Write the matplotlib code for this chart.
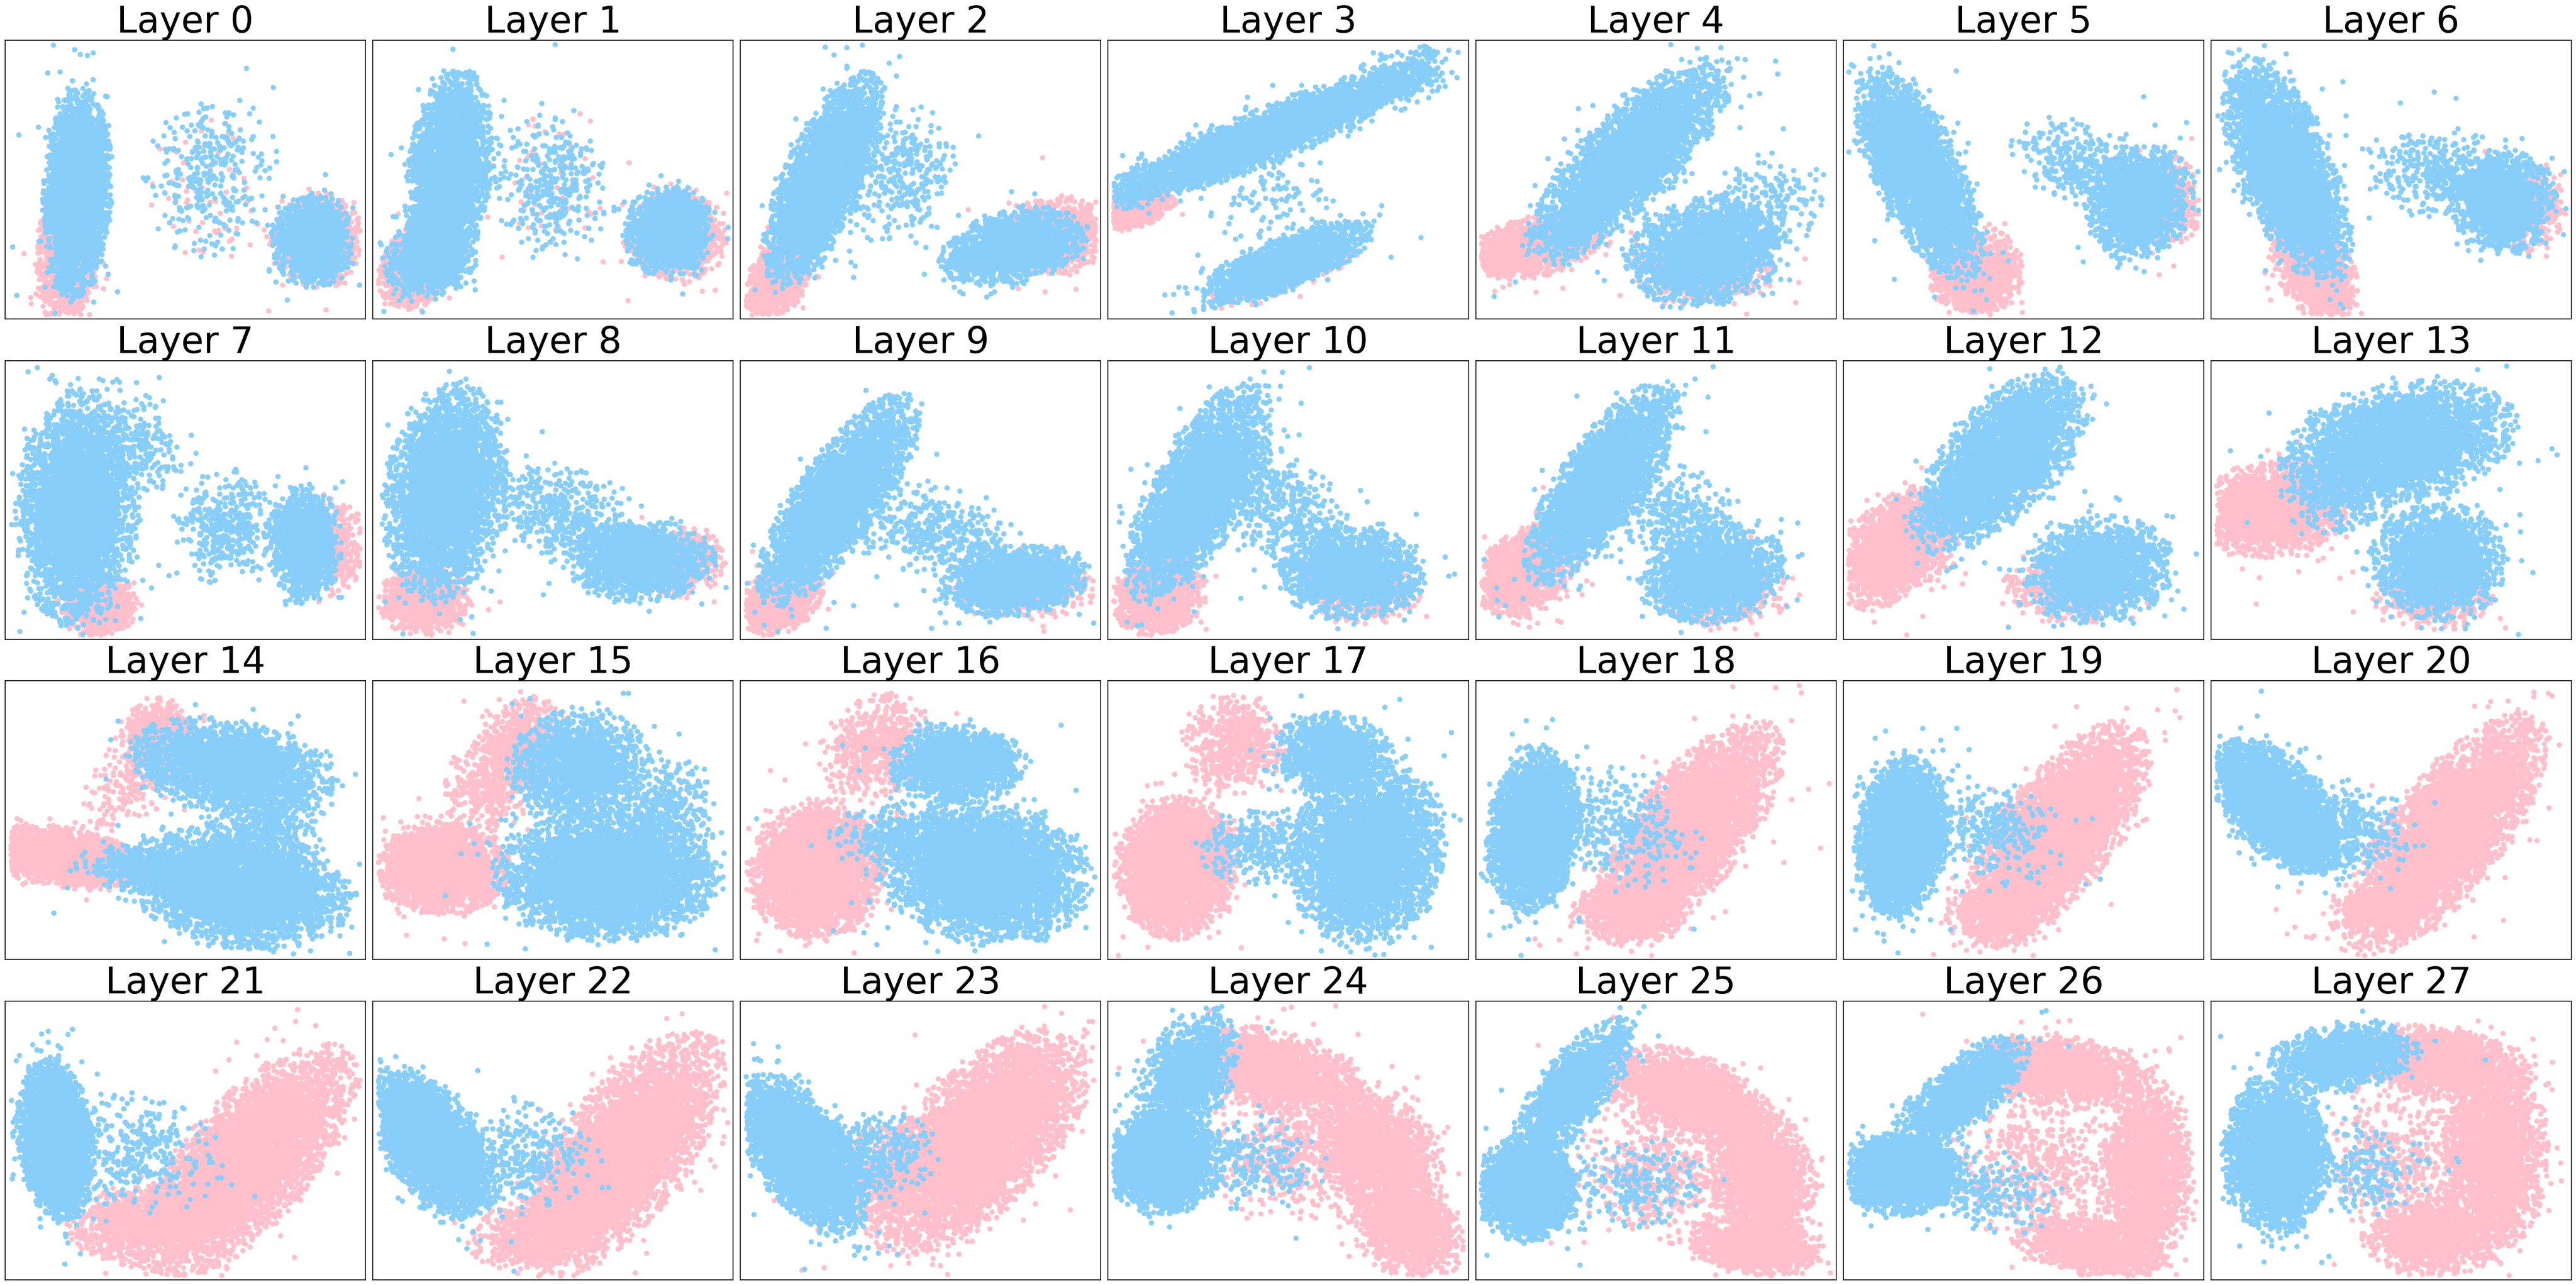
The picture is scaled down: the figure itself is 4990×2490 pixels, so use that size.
import matplotlib.pyplot as plt
import numpy as np

BLUE = "lightskyblue"
PINK = "pink"

# Point clouds, one list per layer.
# Each cloud: (class, cx, cy, sd along axis, sd across, axis angle in deg, n)
# Positions are in axes fractions (0..1).
layer_00 = [("p", .17, .24, .13, .04, 88, 1300), ("p", .87, .28, .08, .06, 90, 900),
            ("p", .55, .45, .15, .10, 90, 60),
            ("b", .20, .45, .18, .045, 88, 2600), ("b", .57, .52, .14, .09, 90, 300),
            ("b", .85, .28, .08, .055, 90, 1100)]
layer_01 = [("p", .13, .20, .08, .05, 70, 1200), ("p", .85, .30, .08, .065, 90, 900),
            ("p", .50, .50, .14, .10, 90, 50),
            ("b", .21, .52, .18, .055, 85, 2200), ("b", .16, .22, .07, .06, 60, 700),
            ("b", .49, .49, .13, .08, 90, 330), ("b", .82, .31, .08, .06, 90, 1100)]
layer_02 = [("p", .10, .14, .08, .04, 70, 900), ("p", .88, .30, .07, .07, 0, 700),
            ("b", .23, .50, .19, .055, 72, 2600), ("b", .45, .52, .12, .08, 80, 300),
            ("b", .76, .26, .10, .06, 20, 1300)]
layer_03 = [("p", .07, .40, .06, .035, 25, 600), ("p", .50, .18, .12, .04, 29, 300),
            ("b", .42, .65, .25, .045, 28, 2600), ("b", .82, .87, .08, .05, 35, 250),
            ("b", .49, .20, .13, .045, 29, 1400), ("b", .45, .42, .10, .07, 30, 80)]
layer_04 = [("p", .16, .26, .10, .05, 20, 1000), ("p", .62, .17, .10, .06, 0, 500),
            ("b", .43, .58, .20, .07, 54, 2400), ("b", .64, .24, .11, .09, 30, 1400),
            ("b", .80, .40, .10, .08, 60, 200), ("b", .25, .30, .06, .05, 20, 200)]
layer_05 = [("p", .37, .16, .08, .06, 80, 1000), ("p", .90, .42, .08, .05, 90, 500),
            ("b", .21, .52, .19, .06, -71, 2600), ("b", .82, .42, .10, .07, 80, 1200),
            ("b", .65, .55, .10, .07, -40, 300)]
layer_06 = [("p", .29, .17, .09, .05, -70, 1000), ("p", .88, .40, .08, .05, 90, 500),
            ("b", .21, .53, .20, .065, -73, 2600), ("b", .81, .42, .09, .07, 90, 1100),
            ("b", .63, .52, .10, .08, -20, 350)]
layer_07 = [("p", .26, .12, .05, .05, 0, 800), ("p", .90, .33, .08, .05, 90, 500),
            ("b", .20, .47, .20, .08, 88, 2700), ("b", .35, .70, .10, .08, -60, 250),
            ("b", .61, .40, .10, .07, 90, 350), ("b", .83, .34, .10, .05, 90, 1000)]
layer_08 = [("p", .14, .14, .06, .06, 0, 900), ("p", .85, .28, .06, .06, 0, 500),
            ("b", .20, .53, .19, .08, 85, 2600), ("b", .53, .45, .12, .08, -30, 450),
            ("b", .74, .28, .10, .07, 0, 1100)]
layer_09 = [("p", .11, .15, .07, .05, 60, 1000), ("p", .80, .18, .10, .05, 0, 500),
            ("b", .27, .50, .20, .06, 63, 2500), ("b", .55, .38, .12, .08, -30, 400),
            ("b", .76, .21, .10, .06, 10, 1200)]
layer_10 = [("p", .14, .16, .07, .06, 60, 1100), ("p", .70, .18, .08, .06, 0, 400),
            ("b", .25, .53, .20, .065, 68, 2400), ("b", .47, .48, .12, .08, -50, 400),
            ("b", .67, .24, .10, .08, 0, 1200)]
layer_11 = [("p", .14, .24, .09, .06, 60, 1100), ("p", .68, .16, .09, .06, 0, 400),
            ("b", .35, .56, .19, .06, 63, 2300), ("b", .58, .42, .12, .08, -50, 400),
            ("b", .66, .23, .10, .08, 20, 1200)]
layer_12 = [("p", .15, .33, .12, .07, 55, 1600), ("p", .63, .18, .09, .06, 0, 500),
            ("b", .45, .66, .16, .08, 60, 2300), ("b", .71, .25, .10, .09, 20, 1300),
            ("b", .30, .45, .08, .06, 50, 300)]
layer_13 = [("p", .17, .47, .11, .08, 15, 1800), ("p", .62, .16, .08, .06, 0, 500),
            ("b", .52, .70, .16, .10, 20, 2400), ("b", .63, .28, .10, .09, 90, 1400),
            ("b", .35, .50, .08, .06, 20, 200)]
layer_14 = [("p", .15, .37, .12, .05, -12, 1600), ("p", .42, .80, .07, .05, 80, 500),
            ("p", .35, .65, .10, .06, 60, 200),
            ("b", .63, .69, .14, .08, -15, 1700), ("b", .64, .26, .15, .10, -15, 2800),
            ("b", .72, .48, .10, .08, 80, 400), ("b", .36, .33, .08, .04, -10, 300)]
layer_15 = [("p", .19, .33, .09, .08, 0, 2000), ("p", .41, .80, .08, .06, 80, 500),
            ("p", .32, .62, .10, .06, 80, 350),
            ("b", .65, .30, .15, .11, 0, 3000), ("b", .57, .70, .10, .09, 60, 1200),
            ("b", .80, .53, .10, .07, 80, 400)]
layer_16 = [("p", .21, .32, .12, .09, 90, 2400), ("p", .37, .76, .10, .07, 70, 550),
            ("b", .60, .70, .09, .07, 0, 1100), ("b", .68, .31, .14, .12, -20, 3000),
            ("b", .45, .44, .10, .06, 0, 350)]
layer_17 = [("p", .19, .33, .12, .08, 85, 2600), ("p", .35, .77, .09, .07, 80, 550),
            ("b", .72, .38, .16, .10, 85, 2800), ("b", .62, .74, .08, .07, 0, 800),
            ("b", .44, .40, .10, .07, 0, 300)]
layer_18 = [("p", .59, .46, .21, .08, 61, 3200), ("p", .43, .18, .08, .06, 0, 600),
            ("b", .16, .46, .14, .06, 85, 2700), ("b", .40, .48, .12, .09, -40, 300)]
layer_19 = [("p", .59, .45, .21, .08, 62, 3200), ("p", .43, .17, .08, .06, 0, 500),
            ("b", .16, .44, .14, .06, 85, 2700), ("b", .40, .46, .12, .09, -40, 300)]
layer_20 = [("p", .65, .45, .23, .08, 60, 3300), ("p", .50, .19, .09, .05, 10, 500),
            ("b", .18, .55, .13, .065, -60, 2700), ("b", .39, .47, .10, .08, -30, 300)]
layer_21 = [("p", .67, .42, .23, .09, 58, 3500), ("p", .38, .20, .10, .07, 10, 700),
            ("b", .14, .50, .14, .05, -85, 2700), ("b", .36, .46, .12, .10, -30, 300)]
layer_22 = [("p", .69, .45, .23, .09, 62, 3500), ("p", .47, .18, .10, .06, 20, 600),
            ("b", .16, .49, .14, .065, -65, 2700), ("b", .42, .45, .10, .10, -30, 300)]
layer_23 = [("p", .66, .50, .22, .10, 57, 3500), ("p", .42, .40, .10, .08, 20, 500),
            ("b", .17, .45, .15, .065, -65, 2700), ("b", .38, .45, .08, .08, 0, 300)]
layer_24 = [("p", .46, .75, .12, .07, -15, 1400), ("p", .75, .45, .13, .08, -70, 1400),
            ("p", .83, .18, .09, .07, -60, 900), ("p", .52, .45, .13, .12, 0, 450),
            ("b", .15, .42, .09, .08, 90, 1800), ("b", .22, .74, .12, .06, 70, 900),
            ("b", .40, .42, .10, .08, 0, 200)]
layer_25 = [("p", .58, .67, .12, .07, -25, 1200), ("p", .79, .38, .13, .07, -80, 1400),
            ("p", .78, .12, .09, .05, -10, 900), ("p", .53, .38, .13, .12, 0, 450),
            ("b", .14, .33, .09, .07, 90, 1800), ("b", .27, .68, .14, .05, 60, 1000),
            ("b", .45, .35, .10, .08, 0, 200)]
layer_26 = [("p", .60, .75, .12, .06, -10, 1200), ("p", .84, .38, .17, .06, 90, 1500),
            ("p", .68, .12, .10, .05, -15, 900), ("p", .55, .42, .13, .14, 0, 450),
            ("b", .16, .38, .08, .07, 0, 1700), ("b", .32, .66, .13, .05, 50, 1000),
            ("b", .40, .32, .10, .07, -20, 200)]
layer_27 = [("p", .65, .78, .12, .06, -10, 1200), ("p", .79, .45, .16, .07, 90, 1600),
            ("p", .63, .16, .10, .07, 10, 900), ("p", .55, .45, .12, .15, 0, 450),
            ("b", .18, .45, .14, .07, 90, 2200), ("b", .37, .80, .10, .06, 10, 900),
            ("b", .42, .40, .10, .08, 0, 200)]

layers = [layer_00, layer_01, layer_02, layer_03, layer_04, layer_05, layer_06,
          layer_07, layer_08, layer_09, layer_10, layer_11, layer_12, layer_13,
          layer_14, layer_15, layer_16, layer_17, layer_18, layer_19, layer_20,
          layer_21, layer_22, layer_23, layer_24, layer_25, layer_26, layer_27]

# individual points cannot be read, so each cloud is filled from its
# read-off centre / spread with a fixed seed
rng = np.random.default_rng(7)


def cloud_points(spec, cls):
    pts = []
    for c, cx, cy, a, b, ang, n in spec:
        if c != cls:
            continue
        if n >= 600:
            n = int(n * 1.4)
        z = rng.standard_normal((3 * n, 2))
        z = z[np.hypot(z[:, 0], z[:, 1]) < 2.4][:n]        # core
        stray = rng.standard_normal((n // 15, 2)) * 1.3    # loose halo
        z = np.vstack([z, stray]) * [a, b] * 0.9
        t = np.deg2rad(ang)
        rot = np.array([[np.cos(t), -np.sin(t)], [np.sin(t), np.cos(t)]])
        pts.append(z @ rot.T + [cx, cy])
    if not pts:
        return np.empty((0, 2))
    pts = np.vstack(pts)
    keep = (pts[:, 0] > 0.015) & (pts[:, 0] < 0.985) & (pts[:, 1] > 0.015) & (pts[:, 1] < 0.985)
    return pts[keep]


fig, axes = plt.subplots(4, 7, figsize=(49.9, 24.9), dpi=100)
fig.subplots_adjust(left=0.002, right=0.9982, top=0.9687, bottom=0.004,
                    wspace=0.02, hspace=0.15)

for i, ax in enumerate(axes.flat):
    spec = layers[i]
    pink = cloud_points(spec, "p")
    blue = cloud_points(spec, "b")
    ax.scatter(pink[:, 0], pink[:, 1], s=55, color=PINK, linewidths=0)
    ax.scatter(blue[:, 0], blue[:, 1], s=55, color=BLUE, linewidths=0)
    ax.set_xlim(0, 1)
    ax.set_ylim(0, 1)
    ax.set_xticks([])
    ax.set_yticks([])
    for sp in ax.spines.values():
        sp.set_linewidth(1.2)
    ax.set_title(f"Layer {i}", fontsize=51, pad=10)

plt.savefig("out.png", dpi=100)
plt.close()
